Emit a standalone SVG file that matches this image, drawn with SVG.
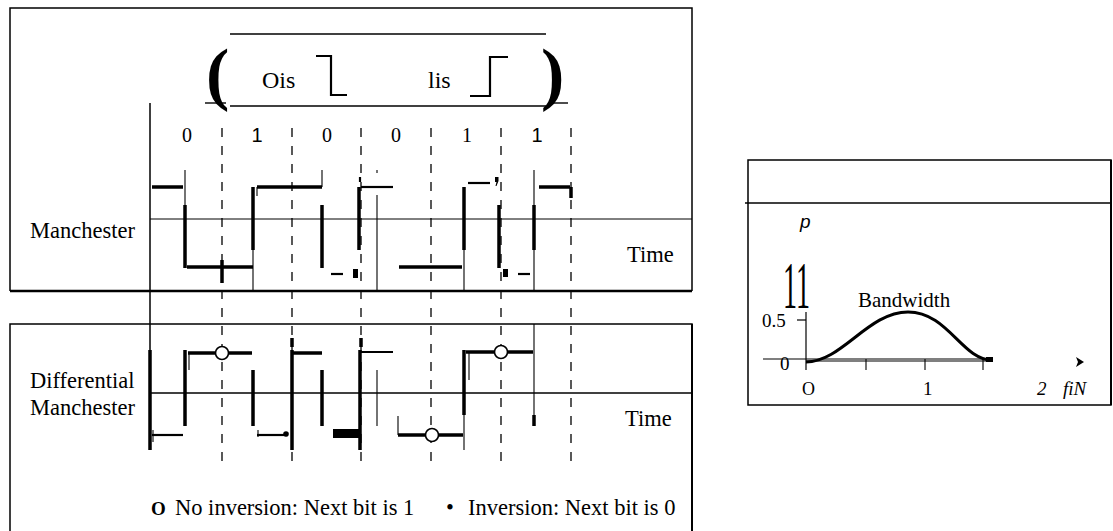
<svg xmlns="http://www.w3.org/2000/svg" width="1113" height="531" viewBox="0 0 1113 531">
<style>
.box{fill:none;stroke:#000;stroke-width:1.5}
.ln{stroke:#000;fill:none}
.thk{stroke:#000;stroke-width:3.5;fill:none}
.med{stroke:#000;stroke-width:2.2;fill:none}
.thn{stroke:#000;stroke-width:1.1;fill:none}
.dash{stroke:#000;stroke-width:1.3;stroke-dasharray:9 9;fill:none}
.serif{font-family:"Liberation Serif","Times New Roman",serif;fill:#000}
.sans{font-family:"Liberation Sans",Arial,sans-serif;fill:#000}
.lbl{font-size:22.5px}
.dig{font-size:20px;text-anchor:middle}
.mark{fill:#fff;stroke:#000;stroke-width:1.6}
</style>
<rect width="1113" height="531" fill="#fff"/>

<g id="manchester-panel">
  <path class="box" d="M10,291 V8 H692 V291"/>
  <line class="ln" x1="10" y1="291" x2="692" y2="291" stroke-width="2.6"/>
  <line class="ln" x1="150" y1="219" x2="692" y2="219" stroke="#555" stroke-width="1"/>
  <text class="serif lbl" x="30" y="238">Manchester</text>
  <text class="serif lbl" x="627" y="262">Time</text>
</g>

<g id="header">
  <line class="ln" x1="230" y1="34" x2="546" y2="34" stroke-width="1.6"/>
  <line class="ln" x1="230" y1="106" x2="546" y2="106" stroke-width="1.6"/>
  <line class="ln" x1="205" y1="103" x2="226" y2="103" stroke-width="1.4"/>
  <line class="ln" x1="548" y1="103" x2="568" y2="103" stroke-width="1.4"/>
  <text class="serif" x="206" y="97" font-size="70" font-weight="bold">(</text>
  <text class="serif" x="541" y="97" font-size="70" font-weight="bold">)</text>
  <text class="serif" x="262" y="88" font-size="24">Ois</text>
  <path class="med" d="M316,56 H331 V95 H347" stroke-width="3"/>
  <text class="serif" x="428" y="88" font-size="24">lis</text>
  <path class="med" d="M470,96 H490 V57 H508" stroke-width="3"/>
</g>

<g id="bit-labels">
  <text class="serif dig" x="187" y="142">0</text>
  <text class="sans dig" x="257" y="142">1</text>
  <text class="serif dig" x="327" y="142">0</text>
  <text class="serif dig" x="396" y="142">0</text>
  <text class="serif dig" x="467" y="142">1</text>
  <text class="sans dig" x="537" y="142">1</text>
</g>

<g id="connectors">
  <line class="ln" x1="150" y1="103" x2="150" y2="450" stroke-width="1.5"/>
  <line class="dash" x1="222" y1="128" x2="222" y2="463"/>
  <line class="dash" x1="292" y1="128" x2="292" y2="463"/>
  <line class="dash" x1="361" y1="128" x2="361" y2="463"/>
  <line class="dash" x1="431" y1="128" x2="431" y2="463"/>
  <line class="dash" x1="501" y1="128" x2="501" y2="463"/>
  <line class="dash" x1="571" y1="128" x2="571" y2="463"/>
</g>

<g id="manchester-wave">
  <path class="thk" d="M152,187 H183"/>
  <path class="thk" d="M185,205 V268"/>
  <path class="thk" d="M187,267 H253"/>
  <path class="thk" d="M222,260 V283"/>
  <path class="thk" d="M253,187 V250"/>
  <path class="thk" d="M257,187 H322"/>
  <path class="thk" d="M322,205 V268"/>
  <path class="med" d="M331,274 H343" stroke-width="2.6"/>
  <rect x="353" y="269" width="5" height="9" fill="#000"/>
  <path class="thk" d="M359,187 V250"/>
  <path class="med" d="M361,187 H393" stroke-width="2.6"/>
  <path class="med" d="M360,177 V182"/>
  <path class="thk" d="M399,267 H462"/>
  <path class="thk" d="M464,187 V250"/>
  <path class="med" d="M468,183 H490" stroke-width="2.6"/>
  <path d="M495,177 h3.5 v4 l-2,5 h-1 l1,-4 h-1.5 z" fill="#000"/>
  <path class="thk" d="M499,205 V268"/>
  <rect x="503" y="269" width="5" height="8" fill="#000"/>
  <path class="med" d="M518,274 H530" stroke-width="2.4"/>
  <path class="thk" d="M534,205 V250"/>
  <path class="thk" d="M539,187 H570"/>
  <path class="thk" d="M571,187 V198"/>
  <path class="thn" d="M185,170 V205"/>
  <path class="thn" d="M253,250 V291"/>
  <path class="thn" d="M257,187 V196"/>
  <path class="thn" d="M322,170 V187"/>
  <path class="thn" d="M377,195 V291"/>
  <path class="thn" d="M377,170 V173"/>
  <path class="thn" d="M464,250 V291"/>
  <path class="thn" d="M534,170 V205 M534,250 V291"/>
</g>

<g id="dm-panel">
  <path class="box" d="M10,531 V324 H692 V531"/>
  <line class="ln" x1="692" y1="324" x2="692" y2="531" stroke-width="2"/>
  <line class="ln" x1="150" y1="393" x2="692" y2="393" stroke-width="1.5"/>
  <text class="serif lbl" x="30" y="388">Differential</text>
  <text class="serif lbl" x="30" y="415">Manchester</text>
  <text class="serif lbl" x="625" y="426">Time</text>
</g>

<g id="dm-wave">
  <path class="thk" d="M150,350 V450"/>
  <path class="med" d="M152,435 H183"/>
  <path class="thn" d="M153,430 V442"/>
  <path class="thk" d="M185,350 V426"/>
  <path class="thn" d="M189,353 V370"/>
  <path class="thk" d="M188,353 H252"/>
  <path class="thk" d="M253,370 V426"/>
  <path class="med" d="M257,435 H288"/>
  <path class="thn" d="M258,430 V437"/>
  <circle cx="286" cy="434" r="2.8" fill="#000"/>
  <path class="thk" d="M292,350 V450 M292,338 V347"/>
  <path class="thk" d="M292,353 H322"/>
  <path class="thk" d="M322,370 V426"/>
  <rect x="333" y="429" width="27" height="9" fill="#000"/>
  <path class="thk" d="M360,350 V450 M361,338 V347"/>
  <path class="med" d="M360,352 H393" stroke-width="2.8"/>
  <path class="thn" d="M377,370 V426"/>
  <path class="thn" d="M398,416 V435" stroke-width="1.5"/>
  <path class="thk" d="M398,435 H463"/>
  <path class="thk" d="M464,350 V415"/>
  <path class="thn" d="M464,415 V450"/>
  <path class="thn" d="M469,353 V380"/>
  <path class="thk" d="M466,352 H533"/>
  <path class="thn" d="M534,324 V415"/>
  <path class="thk" d="M534,415 V426"/>
  <circle class="mark" cx="222" cy="353" r="6.5"/>
  <circle class="mark" cx="432" cy="435" r="6.5"/>
  <circle class="mark" cx="501" cy="352" r="6.5"/>
</g>

<g id="legend">
  <text class="serif" x="151" y="515" font-size="19" font-weight="bold">O</text>
  <text class="serif lbl" x="175" y="515">No inversion: Next bit is 1</text>
  <text class="serif lbl" x="446" y="515">•</text>
  <text class="serif lbl" x="468" y="515">Inversion: Next bit is 0</text>
</g>

<g id="spectrum-panel">
  <rect class="box" x="748" y="160" width="363" height="245"/>
  <line class="ln" x1="1111" y1="160" x2="1111" y2="405" stroke-width="2"/>
  <line class="ln" x1="745" y1="203" x2="1111" y2="203" stroke-width="1.5"/>
  <text class="sans" x="800" y="228" font-size="19" font-style="italic">p</text>
  <text class="serif" x="783" y="308" font-size="68" textLength="27" lengthAdjust="spacingAndGlyphs">11</text>
  <text class="serif" x="858" y="307" font-size="21">Bandwidth</text>
  <text class="serif" x="762" y="327" font-size="19">0.5</text>
  <line class="ln" x1="797" y1="320" x2="806" y2="320" stroke-width="1.2"/>
  <line class="ln" x1="806" y1="312" x2="806" y2="370" stroke-width="1.2"/>
  <text class="serif" x="780" y="370" font-size="19">0</text>
  <line class="ln" x1="763" y1="359" x2="993" y2="359" stroke-width="1.2"/>
  <path class="thn" d="M806,361 H990 M866,359 V370 M925,359 V370 M983,359 V370"/>
  <path class="ln" d="M806,362 C842,362 868,312 908,312 C948,312 962,360 992,360" stroke-width="3"/>
  <rect x="986" y="357" width="7" height="5" fill="#000"/>
  <path d="M1076,357 L1084,362 L1076,367 L1078,362 Z" fill="#000"/>
  <text class="serif" x="802" y="395" font-size="18">O</text>
  <text class="serif" x="923" y="395" font-size="19">1</text>
  <text class="serif" x="1037" y="395" font-size="19" font-style="italic">2</text>
  <text class="serif" x="1063" y="395" font-size="19" font-style="italic">fiN</text>
</g>
</svg>
